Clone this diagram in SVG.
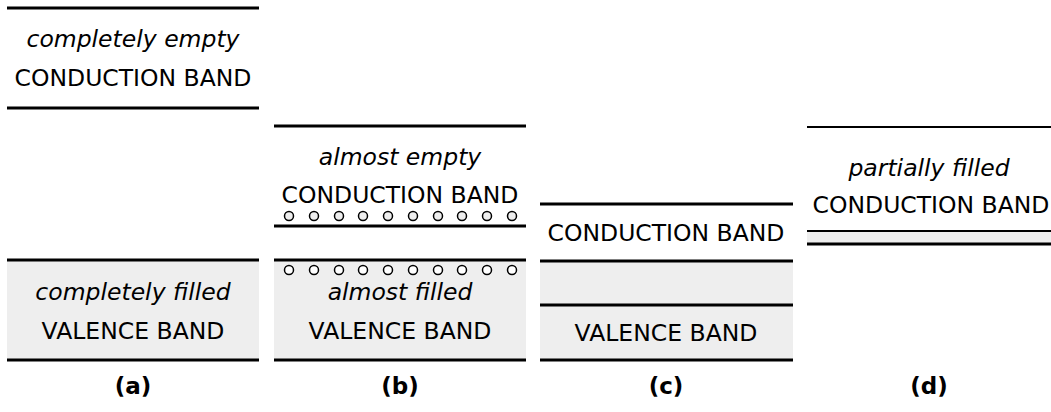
<svg xmlns="http://www.w3.org/2000/svg" width="1051" height="412" viewBox="0 0 1051 412">
<style>
text{font-family:"DejaVu Sans","Liberation Sans",sans-serif;font-size:23.5px;fill:#000;text-anchor:middle}
.it{font-style:italic}
.lbl{font-weight:bold;font-size:23px}
.thick{stroke:#000;stroke-width:3;fill:none}
.thin{stroke:#000;stroke-width:2;fill:none}
.band{fill:#eeeeee;stroke:none}
.e{fill:#eeeeee;stroke:#000;stroke-width:1.5}
.h{fill:#ffffff;stroke:#000;stroke-width:1.5}
</style>
<rect width="1051" height="412" fill="#fff"/>
<g id="panel-a">
<rect class="band" x="7" y="260" width="252" height="100"/>
<line class="thick" x1="7" y1="8" x2="259" y2="8"/>
<line class="thick" x1="7" y1="108" x2="259" y2="108"/>
<line class="thick" x1="7" y1="260" x2="259" y2="260"/>
<line class="thick" x1="7" y1="360" x2="259" y2="360"/>
<text class="it" x="133" y="47">completely empty</text>
<text x="133" y="86">CONDUCTION BAND</text>
<text class="it" x="133" y="300">completely filled</text>
<text x="133" y="339">VALENCE BAND</text>
<text class="lbl" x="133" y="394">(a)</text>
</g>
<g id="panel-b">
<rect class="band" x="274" y="260" width="252" height="100"/>
<line class="thick" x1="274" y1="126" x2="526" y2="126"/>
<line class="thick" x1="274" y1="226" x2="526" y2="226"/>
<line class="thick" x1="274" y1="260" x2="526" y2="260"/>
<line class="thick" x1="274" y1="360" x2="526" y2="360"/>
<text class="it" x="400" y="165">almost empty</text>
<text x="400" y="203">CONDUCTION BAND</text>
<g id="electrons">
<circle class="e" cx="289" cy="216" r="4.5"/><circle class="e" cx="314" cy="216" r="4.5"/><circle class="e" cx="339" cy="216" r="4.5"/><circle class="e" cx="363" cy="216" r="4.5"/><circle class="e" cx="388" cy="216" r="4.5"/><circle class="e" cx="413" cy="216" r="4.5"/><circle class="e" cx="438" cy="216" r="4.5"/><circle class="e" cx="462" cy="216" r="4.5"/><circle class="e" cx="487" cy="216" r="4.5"/><circle class="e" cx="512" cy="216" r="4.5"/>
</g>
<g id="holes">
<circle class="h" cx="289" cy="270" r="4.5"/><circle class="h" cx="314" cy="270" r="4.5"/><circle class="h" cx="339" cy="270" r="4.5"/><circle class="h" cx="363" cy="270" r="4.5"/><circle class="h" cx="388" cy="270" r="4.5"/><circle class="h" cx="413" cy="270" r="4.5"/><circle class="h" cx="438" cy="270" r="4.5"/><circle class="h" cx="462" cy="270" r="4.5"/><circle class="h" cx="487" cy="270" r="4.5"/><circle class="h" cx="512" cy="270" r="4.5"/>
</g>
<text class="it" x="400" y="300">almost filled</text>
<text x="400" y="339">VALENCE BAND</text>
<text class="lbl" x="400" y="394">(b)</text>
</g>
<g id="panel-c">
<rect class="band" x="540" y="261" width="253" height="99"/>
<line class="thick" x1="540" y1="204" x2="793" y2="204"/>
<line class="thick" x1="540" y1="261" x2="793" y2="261"/>
<line class="thick" x1="540" y1="305" x2="793" y2="305"/>
<line class="thick" x1="540" y1="360" x2="793" y2="360"/>
<text x="666" y="241">CONDUCTION BAND</text>
<text x="666" y="341">VALENCE BAND</text>
<text class="lbl" x="666" y="394">(c)</text>
</g>
<g id="panel-d">
<rect class="band" x="807" y="231" width="244" height="13"/>
<line class="thin" x1="807" y1="127" x2="1051" y2="127"/>
<line class="thin" x1="807" y1="231" x2="1051" y2="231"/>
<line class="thick" x1="807" y1="244" x2="1051" y2="244"/>
<text class="it" x="929" y="176">partially filled</text>
<text x="931" y="213">CONDUCTION BAND</text>
<text class="lbl" x="929" y="394">(d)</text>
</g>
<g id="connectors"/>
</svg>
